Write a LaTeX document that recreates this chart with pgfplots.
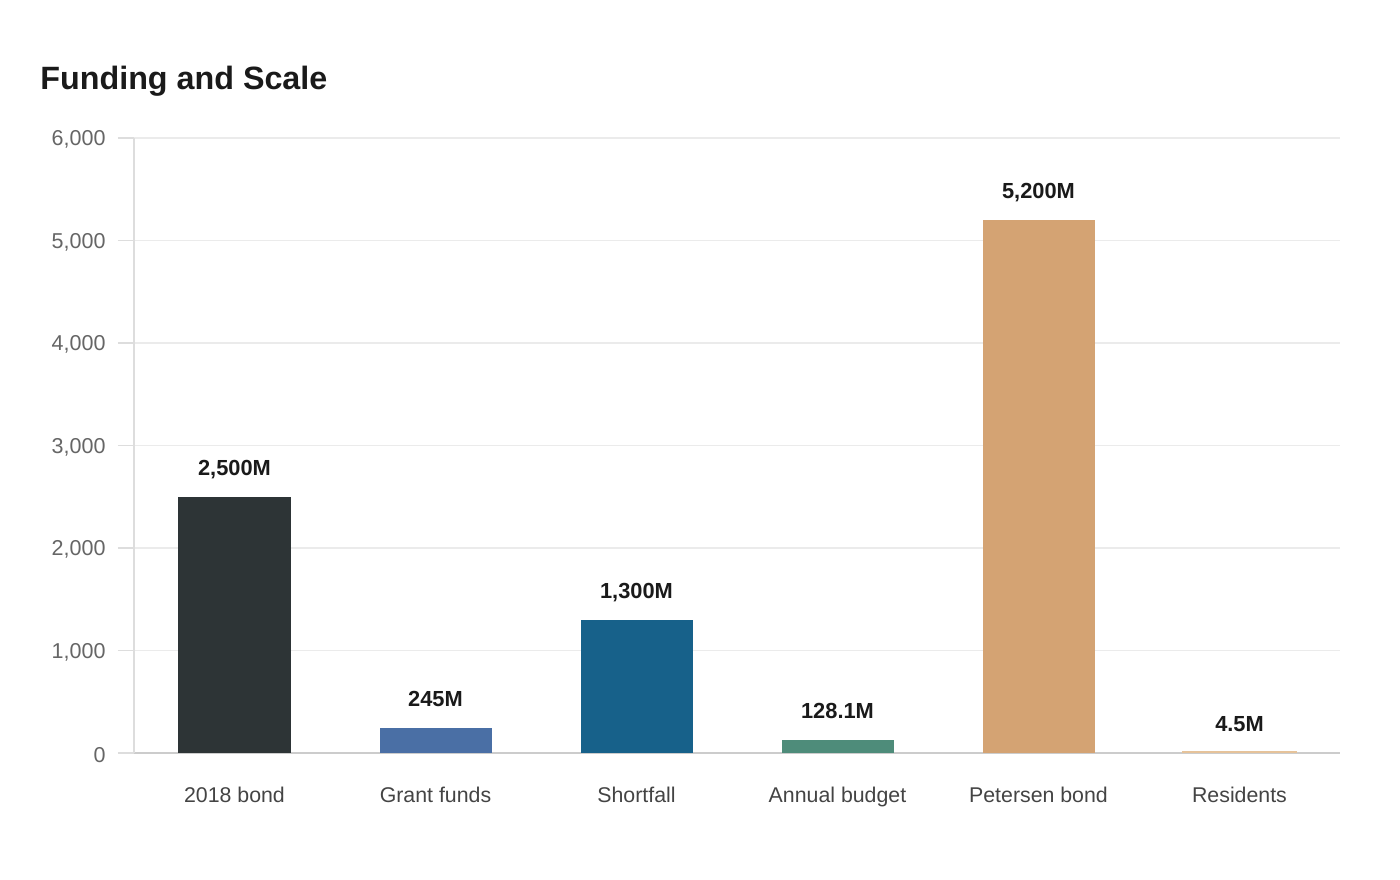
\documentclass[border=0pt]{standalone}
\usepackage{fontspec}
\setmainfont{Liberation Sans}
\usepackage{pgfplots}
\pgfplotsset{compat=1.18}
\definecolor{cA}{HTML}{2D3436}
\definecolor{cB}{HTML}{4A6FA5}
\definecolor{cC}{HTML}{17618A}
\definecolor{cD}{HTML}{4E8C7A}
\definecolor{cE}{HTML}{D4A373}
\definecolor{cF}{HTML}{E6C39A}
\definecolor{titlec}{HTML}{1A1A1A}
\definecolor{gridc}{HTML}{EBEBEB}
\definecolor{yaxc}{HTML}{DDDDDD}
\definecolor{xaxc}{HTML}{CCCCCC}
\definecolor{ylab}{HTML}{666666}
\definecolor{xlab}{HTML}{444444}
\begin{document}
\begin{tikzpicture}
\path[fill=white] (0,0) rectangle (700bp,440bp);
\node[anchor=base west, inner sep=0pt, font=\bfseries\fontsize{16.2}{19}\selectfont, text=titlec] at (20bp,395bp) {Funding and Scale};
\begin{axis}[
  at={(67bp,63.5bp)}, anchor=south west,
  scale only axis, width=603bp, height=307.5bp,
  xmin=-0.5, xmax=5.5, ymin=0, ymax=6000,
  ytick={0,1000,...,6000},
  xtick={0,1,2,3,4,5},
  xticklabels={2018 bond, Grant funds, Shortfall, Annual budget, Petersen bond, Residents},
  ybar, bar width=56bp, bar shift=0pt,
  axis x line*=bottom, axis y line*=left,
  x axis line style={draw=xaxc, line width=0.75bp, -},
  y axis line style={draw=yaxc, line width=0.75bp, -},
  ymajorgrids, grid style={draw=gridc, line width=0.75bp},
  tick align=outside,
  xtick style={draw=none},
  ytick style={draw=yaxc, line width=0.75bp},
  major tick length=8bp,
  /pgf/number format/.cd, 1000 sep={,}, assume math mode=true, /pgfplots/.cd,
  yticklabel style={font=\fontsize{10.8}{12}\selectfont, text=ylab, anchor=east, inner sep=0pt, xshift=-6bp, yshift=-0.8bp},
  xticklabel style={font=\fontsize{10.7}{12}\selectfont, text=xlab, anchor=base, inner sep=0pt},
  every x tick label/.append style={yshift=-16.5bp},
  nodes near coords, point meta=explicit symbolic,
  nodes near coords style={font=\bfseries\fontsize{10.95}{12}\selectfont, text=titlec, anchor=base, inner sep=0pt, yshift=10.5bp},
]
\addplot[fill=cA, draw=none] coordinates {(0,2500) [2,500M]};
\addplot[fill=cB, draw=none] coordinates {(1,245) [245M]};
\addplot[fill=cC, draw=none] coordinates {(2,1300) [1,300M]};
\addplot[fill=cD, draw=none] coordinates {(3,128.1) [128.1M]};
\addplot[fill=cE, draw=none] coordinates {(4,5200) [5,200M]};
\addplot[fill=cF, draw=cF, line width=1.2bp] coordinates {(5,4.5) [4.5M]};
\end{axis}
\end{tikzpicture}
\end{document}
